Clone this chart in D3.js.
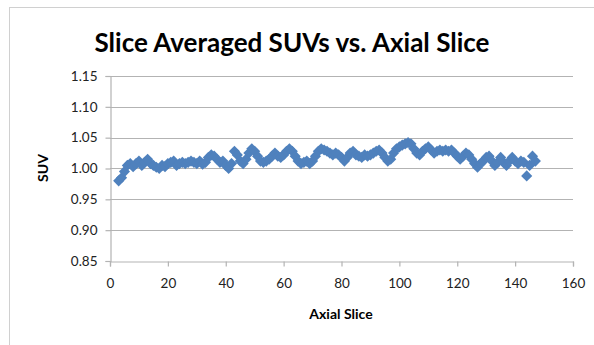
<!DOCTYPE html>
<html>
<head>
<meta charset="utf-8">
<script src="https://cdn.jsdelivr.net/npm/d3@7"></script>
<style>
  html, body { margin: 0; padding: 0; background: #fff; }
  svg { display: block; }
</style>
</head>
<body>
<svg id="chart" width="594" height="345"></svg>
<script>
// Slice index of each sample
const slices = d3.range(3, 148);

// Slice-averaged SUV for each slice above
const suv = [
  0.980, 0.985, 0.995, 1.005, 1.008, 1.003, 1.008, 1.012, 1.005, 1.010,
  1.015, 1.008, 1.005, 1.002, 1.000, 1.005, 1.003, 1.008, 1.010, 1.012,
  1.005, 1.008, 1.010, 1.008, 1.010, 1.012, 1.010, 1.008, 1.012, 1.007,
  1.010, 1.018, 1.022, 1.020, 1.015, 1.010, 1.012, 1.005, 1.000, 1.008,
  1.028, 1.022, 1.012, 1.008, 1.015, 1.025, 1.032, 1.028, 1.020, 1.012,
  1.010, 1.012, 1.015, 1.020, 1.025, 1.020, 1.018, 1.022, 1.028, 1.032,
  1.028, 1.020, 1.012, 1.008, 1.010, 1.012, 1.008, 1.012, 1.020, 1.028,
  1.032, 1.030, 1.028, 1.025, 1.022, 1.025, 1.022, 1.018, 1.012, 1.018,
  1.025, 1.028, 1.022, 1.020, 1.018, 1.022, 1.020, 1.022, 1.025, 1.028,
  1.030, 1.025, 1.018, 1.012, 1.015, 1.025, 1.032, 1.035, 1.038, 1.040,
  1.042, 1.040, 1.032, 1.025, 1.022, 1.028, 1.032, 1.035, 1.030, 1.025,
  1.028, 1.030, 1.028, 1.030, 1.028, 1.030, 1.025, 1.020, 1.015, 1.020,
  1.025, 1.022, 1.015, 1.008, 1.002, 1.008, 1.012, 1.018, 1.020, 1.012,
  1.005, 1.010, 1.018, 1.010, 1.005, 1.012, 1.018, 1.012, 1.008, 1.012,
  1.010, 0.988, 1.005, 1.020, 1.012
];

const xTicks = [0, 20, 40, 60, 80, 100, 120, 140, 160];
const yTicks = [0.85, 0.90, 0.95, 1.00, 1.05, 1.10, 1.15];

const title = "Slice Averaged SUVs vs. Axial Slice";
const xTitle = "Axial Slice";
const yTitle = "SUV";

const svg = d3.select("#chart");
const font = "Lato, 'Open Sans', sans-serif";
const gridColor = "#b3b3b3";

// Outer chart frame
svg.append("rect")
  .attr("x", 9.5).attr("y", 7.5)
  .attr("width", 600).attr("height", 350)
  .attr("fill", "none").attr("stroke", "#d0d0d0").attr("stroke-width", 1);

const plot = { left: 110, right: 573, top: 76, bottom: 261 };

const x = d3.scaleLinear().domain([0, 160]).range([plot.left, plot.right]);
const y = d3.scaleLinear().domain([0.85, 1.15]).range([plot.bottom, plot.top]);

// Horizontal gridlines
svg.append("g")
  .selectAll("line")
  .data(yTicks.filter(t => t > 0.85))
  .join("line")
  .attr("x1", plot.left).attr("x2", plot.right)
  .attr("y1", d => Math.round(y(d)) + 0.5).attr("y2", d => Math.round(y(d)) + 0.5)
  .attr("stroke", gridColor).attr("stroke-width", 1.2);

// Y axis
const yAxis = svg.append("g")
  .attr("transform", `translate(${plot.left + 0.5},0)`)
  .call(d3.axisLeft(y).tickValues(yTicks).tickFormat(d3.format(".2f")).tickSize(5).tickPadding(8));

// X axis
const xAxis = svg.append("g")
  .attr("transform", `translate(0,${Math.round(y(0.85)) + 0.5})`)
  .call(d3.axisBottom(x).tickValues(xTicks).tickSize(5).tickPadding(12));

[yAxis, xAxis].forEach(g => {
  g.selectAll(".domain").attr("stroke", gridColor).attr("stroke-width", 1.2);
  g.selectAll(".tick line").attr("stroke", gridColor).attr("stroke-width", 1.2);
  g.selectAll("text")
    .attr("fill", "#222")
    .style("font-family", font)
    .style("font-size", "13.5px");
});

// Square diamond marker (equal width and height)
const squareDiamond = {
  draw(context, size) {
    const r = Math.sqrt(size / 2);
    context.moveTo(0, -r);
    context.lineTo(r, 0);
    context.lineTo(0, r);
    context.lineTo(-r, 0);
    context.closePath();
  }
};
const diamond = d3.symbol().type(squareDiamond).size(62);

svg.append("g")
  .selectAll("path")
  .data(slices.map((s, i) => ({ s, v: suv[i] })))
  .join("path")
  .attr("d", diamond)
  .attr("transform", d => `translate(${x(d.s)},${y(d.v)})`)
  .attr("fill", "#4f81bd");

// Titles
svg.append("text")
  .attr("x", 292).attr("y", 52)
  .attr("text-anchor", "middle")
  .style("font-family", font)
  .style("font-weight", "bold")
  .style("font-size", "26px")
  .attr("fill", "#000")
  .text(title);

svg.append("text")
  .attr("x", 341).attr("y", 319)
  .attr("text-anchor", "middle")
  .style("font-family", font)
  .style("font-weight", "bold")
  .style("font-size", "14px")
  .attr("fill", "#000")
  .text(xTitle);

svg.append("text")
  .attr("transform", "translate(48,168) rotate(-90)")
  .attr("text-anchor", "middle")
  .style("font-family", font)
  .style("font-weight", "bold")
  .style("font-size", "14px")
  .attr("fill", "#000")
  .text(yTitle);
</script>
</body>
</html>
